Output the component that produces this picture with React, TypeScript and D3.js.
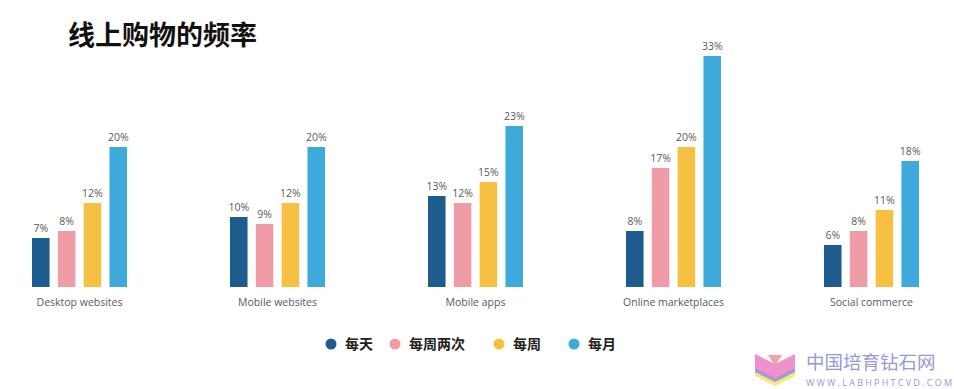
import React from "react";
import * as d3 from "d3";

const categories = ["Desktop websites", "Mobile websites", "Mobile apps", "Online marketplaces", "Social commerce"];
const seriesNames = ["每天", "每周两次", "每周", "每月"];
const daily = [7, 10, 13, 8, 6];
const twiceWeekly = [8, 9, 12, 17, 8];
const weekly = [12, 12, 15, 20, 11];
const monthly = [20, 20, 23, 33, 18];
const colors = ["#1d5c8d", "#ef9ca7", "#f6c142", "#3eaadc"];
const title = "线上购物的频率";

const W = 954;
const H = 389;

export default function App() {
  const series = [daily, twiceWeekly, weekly, monthly];
  const x0 = d3.scaleBand<string>().domain(categories).range([32, 919]).paddingInner(0.52).paddingOuter(0);
  const x1 = d3.scaleBand<string>().domain(seriesNames).range([0, x0.bandwidth()]).paddingInner(0.32).paddingOuter(0);
  const y = d3.scaleLinear().domain([0, 35]).range([287, 42]);

  const legendX = [331, 395, 499, 574];

  return (
    <svg width={W} height={H} style={{ position: "absolute", left: 0, top: 0, background: "#fff" }}
      fontFamily="'Open Sans', 'Noto Sans', sans-serif">
      <rect width={W} height={H} fill="#fff" />
      <text x={68} y={45} fontSize={27} fontWeight={700} fontFamily="'Noto Sans CJK SC', sans-serif" fill="#111">{title}</text>
      {categories.map((c, ci) => (
        <g key={c} transform={`translate(${x0(c)},0)`}>
          {seriesNames.map((s, si) => {
            const v = series[si][ci];
            const bx = x1(s)!;
            return (
              <g key={s}>
                <rect x={bx} y={y(v)} width={x1.bandwidth()} height={y(0) - y(v)} fill={colors[si]} />
                <text x={bx + x1.bandwidth() / 2} y={y(v) - 6} textAnchor="middle" fontSize={10.5} fill="#5a5a5a">{`${v}%`}</text>
              </g>
            );
          })}
          <text x={x0.bandwidth() / 2} y={306} textAnchor="middle" fontSize={10.5} fill="#5a5a5a">{c}</text>
        </g>
      ))}
      {seriesNames.map((s, i) => (
        <g key={s}>
          <circle cx={legendX[i]} cy={344} r={5.5} fill={colors[i]} />
          <text x={legendX[i] + 14} y={349} fontSize={14} fontWeight={700} fontFamily="'Noto Sans CJK SC', sans-serif" fill="#222">{s}</text>
        </g>
      ))}
      <g opacity={0.9}>
        <polygon points="755,362 775,372 775,386 755,376" fill="#f2e86a" />
        <polygon points="795,362 775,372 775,386 795,376" fill="#f2e86a" />
        <polygon points="755,358 775,368 775,382 755,372" fill="#9d8fd6" />
        <polygon points="795,358 775,368 775,382 795,372" fill="#9d8fd6" />
        <polygon points="755,354 775,364 775,378 755,368" fill="#ef86c8" />
        <polygon points="795,354 775,364 775,378 795,368" fill="#ef86c8" />
        <polygon points="768,355 782,355 775,366" fill="#f29a9a" />
        <text x={806} y={369} fontSize={18.5} fontFamily="'Noto Sans CJK SC', sans-serif" fill="#8b8fd2">中国培育钻石网</text>
        <text x={806} y={385.5} fontSize={9} fontFamily="'Open Sans', sans-serif" fill="#8b8fd2" textLength={146}>WWW.LABHPHTCVD.COM</text>
      </g>
    </svg>
  );
}
